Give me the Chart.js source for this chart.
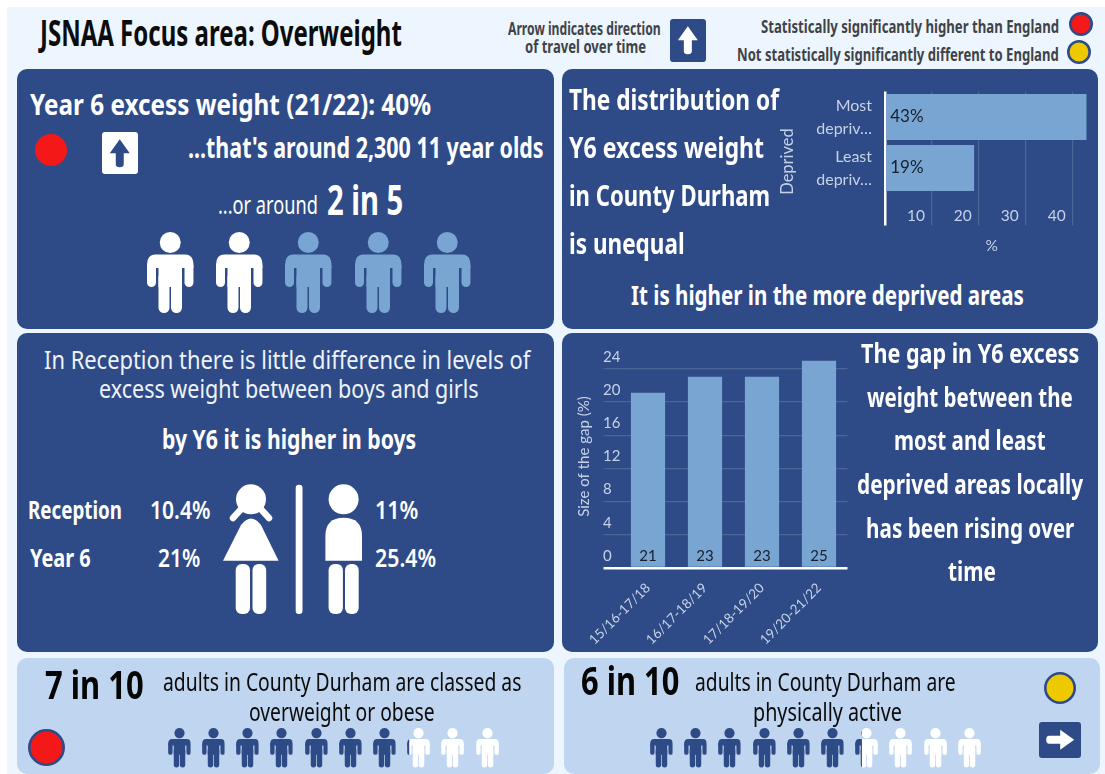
<!DOCTYPE html>
<html>
<head>
  <title>JSNAA Focus area: Overweight</title>
  <script src="https://cdn.jsdelivr.net/npm/chart.js@4.4.0/dist/chart.umd.min.js"></script>
  <style>
    html, body { margin: 0; background: #fff; overflow: hidden; }
    #page { position: relative; width: 1105px; height: 774px; overflow: hidden; }
    .box { position: absolute; }
    .txt { position: absolute; white-space: nowrap; transform-origin: left center; line-height: 1; font-family: "Noto Sans", sans-serif; }
    canvas { position: absolute; }
    svg { position: absolute; overflow: visible; }
  </style>
</head>
<body>
  <div id="page">
    <div id="backs"></div>
    <canvas id="deprivationChart" width="320" height="190" style="left:775px;top:75px"></canvas>
    <canvas id="gapChart" width="285" height="300" style="left:570px;top:345px"></canvas>
  </div>

  <script>
    // chart data
    const deprivedLabels = [['Most', 'depriv…'], ['Least', 'depriv…']];
    const deprivedValues = [43, 19];
    const gapPeriods = ['15/16-17/18', '16/17-18/19', '17/18-19/20', '19/20-21/22'];
    const gapValues = [21, 23, 23, 25];
    const gapShown = [21.1, 23.05, 23.05, 25];

    // people rows
    const childrenOutOf5 = 2;
    const adultsOverweight = 7.1;
    const adultsActive = 6.3;

    const navy = '#2e4b87', sky = '#78a5d1', pale = '#c0d6f0', ink = '#3f4347';
    const page = document.getElementById('page');
    const backs = document.getElementById('backs');

    function box(x1, y1, x2, y2, bg, radius) {
      const d = document.createElement('div');
      d.className = 'box';
      d.style.cssText = `left:${x1}px;top:${y1}px;width:${x2 - x1}px;height:${y2 - y1}px;background:${bg};border-radius:${radius}px`;
      backs.appendChild(d);
      return d;
    }

    // text squeezed to the width it has in the picture
    function txt(s, x1, x2, cy, size, weight, color) {
      const d = document.createElement('div');
      d.className = 'txt';
      d.textContent = s;
      d.style.cssText = `left:${x1}px;top:${cy - size / 2 - size * 0.04}px;font-size:${size}px;font-weight:${weight};color:${color}`;
      page.appendChild(d);
      d.style.transform = `scaleX(${(x2 - x1) / d.offsetWidth})`;
    }

    function svg(x, y, w, h, vb, inner) {
      const wrap = document.createElement('div');
      wrap.innerHTML = `<svg style="left:${x}px;top:${y}px" width="${w}" height="${h}" viewBox="${vb}">${inner}</svg>`;
      page.appendChild(wrap.firstChild);
    }

    function dot(cx, cy, r, fill, stroke) {
      svg(cx - r, cy - r, r * 2, r * 2, `0 0 ${r * 2} ${r * 2}`,
        `<circle cx="${r}" cy="${r}" r="${stroke ? r - 1.3 : r}" fill="${fill}" ${stroke ? `stroke="${stroke}" stroke-width="2.6"` : ''}/>`);
    }

    function arrowBox(x1, y1, x2, y2, bg, fg, angle) {
      box(x1, y1, x2, y2, bg, 3);
      const w = x2 - x1, h = y2 - y1;
      svg(x1, y1, w, h, `0 0 ${w} ${h}`,
        `<g transform="translate(${w / 2} ${h / 2}) rotate(${angle})" fill="${fg}">
           <path d="M0 -14 L10 0 L4 0 L4 11 Q4 14 0 14 Q-4 14 -4 11 L-4 0 L-10 0 Z"/></g>`);
    }

    const personShape = `<circle cx="23.25" cy="10.5" r="10.5"/>
      <path d="M0 33 Q0 22.5 8 22.5 L38.5 22.5 Q46.5 22.5 46.5 33 L46.5 36 L35 36 L11.5 36 L0 36 Z"/>
      <rect x="0" y="30" width="9" height="25" rx="4.5"/><rect x="37.5" y="30" width="9" height="25" rx="4.5"/>
      <rect x="11.5" y="30" width="23.5" height="25"/>
      <rect x="11.5" y="40" width="11" height="41" rx="5.5"/><rect x="24" y="40" width="11" height="41" rx="5.5"/>`;

    let clipCount = 0;
    function person(x, y, w, h, colorA, colorB, split) {
      const id = 'c' + (clipCount++);
      svg(x, y, w, h, '0 0 46.5 81',
        `<clipPath id="${id}a"><rect x="-1" y="-1" width="${46.5 * split + 1}" height="83"/></clipPath>
         <clipPath id="${id}b"><rect x="${46.5 * split}" y="-1" width="48" height="83"/></clipPath>
         <g clip-path="url(#${id}a)" fill="${colorA}">${personShape}</g>
         <g clip-path="url(#${id}b)" fill="${colorB}">${personShape}</g>`);
    }

    function peopleRow(x0, y, score) {
      for (let i = 0; i < 10; i++) {
        const split = Math.max(0, Math.min(1, score - i));
        person(x0 + i * 34.2, y, 23, 39.5, navy, '#fff', split);
      }
    }

    // panels
    box(7, 7, 1105, 774, '#edf6ff', 0);
    box(16.5, 68.5, 553.5, 329, navy, 10);
    box(562, 68.5, 1098, 329, navy, 10);
    box(16.5, 333, 553.5, 652, navy, 10);
    box(562, 333, 1098, 652, navy, 10);
    box(17, 658, 553.5, 774, pale, 10);
    box(563.5, 658, 1099.5, 774, pale, 10);

    // header
    txt('JSNAA Focus area: Overweight', 40, 402, 34, 35, 700, '#0c0c0c');
    txt('Arrow indicates direction', 507.6, 660, 29.5, 17, 700, ink);
    txt('of travel over time', 525, 646, 47.5, 17, 700, ink);
    arrowBox(670, 19, 705.7, 61.7, navy, '#fff', 0);
    txt('Statistically significantly higher than England', 760.6, 1058.6, 27.5, 17.5, 700, ink);
    txt('Not statistically significantly different to England', 737, 1058.6, 55.5, 17.5, 700, ink);
    dot(1081.4, 24, 12, '#f51818', navy);
    dot(1079.4, 52, 12, '#eec900', navy);

    // Year 6 panel
    txt('Year 6 excess weight (21/22): 40%', 30, 431, 105, 29, 700, '#fff');
    dot(50.7, 150, 16, '#f51818');
    arrowBox(102, 131.7, 137.5, 174, '#fff', navy, 0);
    txt("...that's around 2,300 11 year olds", 188, 544, 148, 28, 700, '#fff');
    txt('...or around', 218, 318, 205, 26, 400, '#fff');
    txt('2 in 5', 327, 403.5, 201, 42, 700, '#fff');
    for (let i = 0; i < 5; i++) {
      const c = i < childrenOutOf5 ? '#fff' : sky;
      person(147 + i * 69.2, 232, 46.5, 81, c, c, 1);
    }

    // distribution panel
    txt('The distribution of', 568.7, 779, 100, 29, 700, '#fff');
    txt('Y6 excess weight', 568.7, 764, 148, 29, 700, '#fff');
    txt('in County Durham', 568.7, 770, 196, 29, 700, '#fff');
    txt('is unequal', 568.7, 684.4, 244, 29, 700, '#fff');
    txt('It is higher in the more deprived areas', 631, 1024, 296, 27, 700, '#fff');

    // reception panel
    txt('In Reception there is little difference in levels of', 44, 530, 360, 26, 400, '#eef3fa');
    txt('excess weight between boys and girls', 99, 479, 389, 26, 400, '#eef3fa');
    txt('by Y6 it is higher in boys', 162, 416, 440, 26, 700, '#fff');
    txt('Reception', 27.5, 121.4, 510, 25, 700, '#fff');
    txt('Year 6', 29.6, 90, 558.7, 25, 700, '#fff');
    txt('10.4%', 150, 210.7, 510, 25, 600, '#fff');
    txt('21%', 157.5, 199.3, 558.7, 25, 600, '#fff');
    txt('11%', 375, 417.9, 510, 25, 600, '#fff');
    txt('25.4%', 375, 436.4, 558.7, 25, 600, '#fff');
    // girl, divider, boy
    svg(0, 0, 1105, 774, '0 0 1105 774', `<g fill="#fff">
      <circle cx="251" cy="499.3" r="15"/>
      <path d="M233 518 L244 506 M269 518 L258 506" stroke="#fff" stroke-width="6.5" stroke-linecap="round"/>
      <path d="M223 560.7 L241 525 Q251 512 261 525 L278.6 560.7 Z"/>
      <rect x="235.7" y="564" width="14.3" height="50" rx="6"/><rect x="252.5" y="564" width="13.7" height="50" rx="6"/>
      <rect x="295.7" y="484.7" width="6.8" height="129.3" rx="3.2"/>
      <circle cx="343.6" cy="499.3" r="15"/>
      <path d="M325.4 560.7 L325.4 536 Q325.4 517.7 343.6 517.7 Q362 517.7 362 536 L362 560.7 Z"/>
      <rect x="328.6" y="564" width="14.3" height="50" rx="6"/><rect x="345" y="564" width="13.7" height="50" rx="6"/>
    </g>`);

    // gap panel
    txt('The gap in Y6 excess', 861, 1079, 354, 26, 700, '#fff');
    txt('weight between the', 867, 1073, 398, 26, 700, '#fff');
    txt('most and least', 894, 1046, 441, 26, 700, '#fff');
    txt('deprived areas locally', 857, 1083, 485, 26, 700, '#fff');
    txt('has been rising over', 866, 1074, 529, 26, 700, '#fff');
    txt('time', 948, 996, 572, 26, 700, '#fff');

    // adult panels
    txt('7 in 10', 44.6, 143, 686, 40, 700, '#050505');
    txt('adults in County Durham are classed as', 163, 521.4, 682, 26, 400, '#0b0b0b');
    txt('overweight or obese', 249, 435, 712, 26, 400, '#0b0b0b');
    dot(46.4, 747.7, 18.5, '#f51818', navy);
    peopleRow(167.8, 728.3, adultsOverweight);

    txt('6 in 10', 581, 679, 682, 40, 700, '#050505');
    txt('adults in County Durham are', 694.5, 955, 682, 26, 400, '#0b0b0b');
    txt('physically active', 753, 902, 712, 26, 400, '#0b0b0b');
    dot(1059.8, 688.3, 16, '#eec900', navy);
    arrowBox(1039, 722, 1081.4, 757.7, navy, '#fff', 90);
    peopleRow(650, 728.3, adultsActive);

    // value labels sitting at the base of each bar
    const barLabels = {
      id: 'barLabels',
      afterDatasetsDraw(chart, args, opts) {
        const ctx = chart.ctx;
        ctx.save();
        ctx.font = opts.font;
        ctx.fillStyle = '#16202e';
        ctx.textBaseline = 'middle';
        chart.getDatasetMeta(0).data.forEach((bar, i) => {
          const text = opts.values[i] + opts.suffix;
          if (chart.options.indexAxis === 'y') {
            ctx.textAlign = 'left';
            ctx.fillText(text, bar.base + 4, bar.y);
          } else {
            ctx.textAlign = 'center';
            ctx.fillText(text, bar.x, bar.base - 11);
          }
        });
        ctx.restore();
      }
    };

    const tickColor = '#c6d2e6', gridColor = '#4d6698';
    const chartFont = 'Lato';
    const nb = n => '\u00a0'.repeat(n);

    new Chart(document.getElementById('deprivationChart'), {
      type: 'bar',
      plugins: [barLabels],
      data: {
        labels: deprivedLabels,
        datasets: [{ data: deprivedValues, backgroundColor: sky, barPercentage: 0.9, categoryPercentage: 1 }]
      },
      options: {
        indexAxis: 'y',
        responsive: false,
        animation: false,
        layout: { padding: { top: 16.5, right: 8.3 } },
        plugins: {
          legend: { display: false },
          tooltip: { enabled: false },
          barLabels: { font: '17px ' + chartFont, values: deprivedValues, suffix: '%' }
        },
        scales: {
          x: {
            min: 0, max: 43,
            afterFit(scale) { scale.height = 71.5; scale.paddingLeft = 0; scale.paddingRight = 0; },
            border: { display: false },
            grid: {
              tickLength: 32,
              color: c => c.tick && c.tick.value === 0 ? '#fff' : gridColor,
              lineWidth: c => c.tick && c.tick.value === 0 ? 2.5 : 1.2
            },
            ticks: {
              stepSize: 10, includeBounds: false, maxRotation: 0,
              color: tickColor, labelOffset: -16, padding: -19,
              font: { family: chartFont, size: 15.5 },
              callback: v => v === 0 ? '' : v
            },
            title: { display: true, text: nb(3) + '%', color: tickColor, font: { family: chartFont, size: 15.5 }, padding: { top: 0, bottom: 10 } }
          },
          y: {
            afterFit(scale) { scale.width = 110; scale.paddingTop = 0; scale.paddingBottom = 0; },
            border: { display: false },
            grid: { display: false },
            ticks: { color: tickColor, padding: 5, autoSkip: false, font: { family: chartFont, size: 16, lineHeight: 1.42 } },
            title: { display: true, text: 'Deprived' + nb(9), color: tickColor, font: { family: chartFont, size: 16.5 }, padding: { top: 3, bottom: 0 } }
          }
        }
      }
    });

    new Chart(document.getElementById('gapChart'), {
      type: 'bar',
      plugins: [barLabels],
      data: {
        labels: gapPeriods,
        datasets: [{ data: gapShown, backgroundColor: sky, barPercentage: 0.6, categoryPercentage: 1 }]
      },
      options: {
        responsive: false,
        animation: false,
        layout: { padding: { top: 15.5, right: 7.5 } },
        plugins: {
          legend: { display: false },
          tooltip: { enabled: false },
          barLabels: { font: '15px ' + chartFont, values: gapValues, suffix: '' }
        },
        scales: {
          x: {
            afterFit(scale) { scale.height = 77; scale.paddingLeft = 0; scale.paddingRight = 0; },
            border: { display: false },
            grid: { display: false },
            ticks: {
              minRotation: 45, maxRotation: 45, autoSkip: false, color: tickColor, padding: 4,
              font: { family: chartFont, size: 13.5 }
            }
          },
          y: {
            min: 0, max: 25,
            afterFit(scale) { scale.width = 49.5; scale.paddingTop = 0; scale.paddingBottom = 0; },
            border: { display: false },
            grid: {
              tickLength: 16,
              color: c => c.tick && c.tick.value === 0 ? '#fff' : gridColor,
              lineWidth: c => c.tick && c.tick.value === 0 ? 2.5 : 1.2
            },
            ticks: {
              stepSize: 4, includeBounds: false, mirror: true, padding: -16.5, labelOffset: -12,
              color: tickColor, font: { family: chartFont, size: 15 }
            },
            title: { display: true, text: nb(4) + 'Size of the gap (%)', color: tickColor, font: { family: chartFont, size: 15 }, padding: { top: 5, bottom: 0 } }
          }
        }
      }
    });
  </script>
</body>
</html>
